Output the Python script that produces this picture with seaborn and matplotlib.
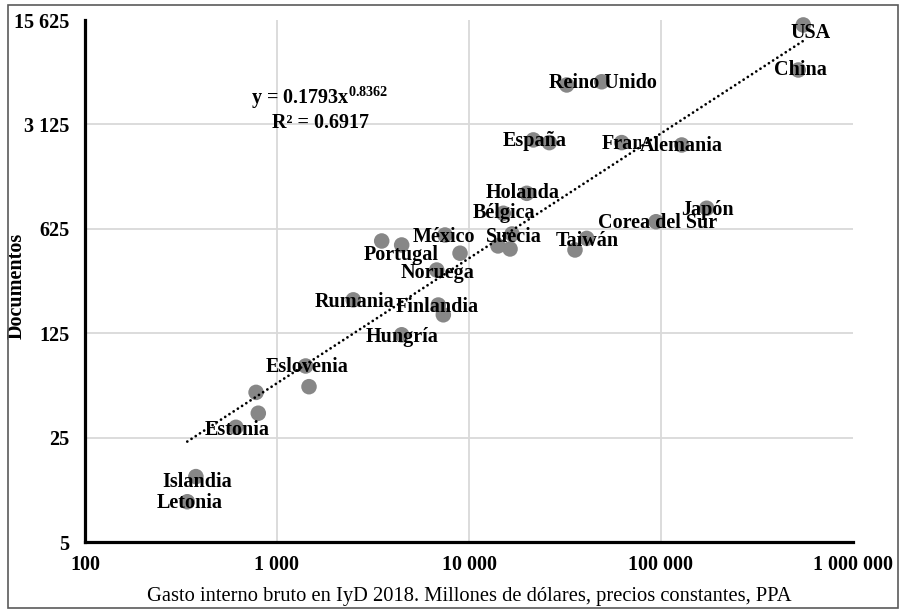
import numpy as np
import pandas as pd
import matplotlib
matplotlib.use("Agg")
import matplotlib.pyplot as plt
from matplotlib.patches import Rectangle
from matplotlib.transforms import Bbox
import seaborn as sns

# Países (cadena vacía = punto sin etiqueta)
paises = ["USA", "China", "Reino Unido", "", "España", "", "Francia", "Alemania",
          "Holanda", "Bélgica", "México", "Suecia", "", "", "Portugal", "", "",
          "Noruega", "Rumania", "Finlandia", "", "Hungría", "Taiwán", "",
          "Corea del Sur", "Japón", "Eslovenia", "", "", "", "Estonia",
          "Islandia", "Letonia"]
# Gasto interno bruto en IyD 2018 (millones de dólares PPA)
gasto = [550800, 518800, 49100, 32280, 21630, 26200, 62400, 128200,
         19990, 15090, 7500, 16750, 14160, 16360, 4460, 3510, 8980,
         6790, 2496, 6920, 7350, 4460, 41020, 35650,
         94200, 173000, 1410, 1468, 778, 799, 611,
         378, 341]
# Documentos
documentos = [14480, 7230, 6030, 5740, 2460, 2360, 2360, 2275,
              1080, 794, 568, 577, 480, 458, 487, 518, 429,
              331, 209, 193, 166, 122, 539, 451,
              697, 858, 75.4, 54.8, 50.2, 36.4, 29.3,
              13.7, 9.3]

# Ajuste potencial
coef_a = 0.1793
coef_b = 0.8362
r2 = 0.6917

x_ticks = [100, 1000, 10000, 100000, 1000000]
x_labels = ["100", "1 000", "10 000", "100 000", "1 000 000"]
y_ticks = [5, 25, 125, 625, 3125, 15625]
y_labels = ["5", "25", "125", "625", "3 125", "15 625"]

sns.set_theme(style="white")
plt.rcParams["font.family"] = ["Liberation Serif", "DejaVu Serif"]
plt.rcParams["mathtext.fontset"] = "custom"
plt.rcParams["mathtext.rm"] = "Liberation Serif:bold"
plt.rcParams["mathtext.bf"] = "Liberation Serif:bold"
plt.rcParams["mathtext.it"] = "Liberation Serif:bold:italic"

df = pd.DataFrame({"pais": paises, "gasto": gasto, "documentos": documentos})

W, H = 900, 610
fig = plt.figure(figsize=(W / 100, H / 100), dpi=100)
ax = fig.add_axes([85 / W, (H - 542) / H, 768 / W, 522 / H])

ax.set_xscale("log")
ax.set_yscale("log")
ax.set_xlim(x_ticks[0], x_ticks[-1])
ax.set_ylim(y_ticks[0], y_ticks[-1])

grid_col = "#d9d9d9"
for xv in x_ticks[1:-1]:
    ax.axvline(xv, color=grid_col, lw=1.3, zorder=0)
for yv in y_ticks[1:-1]:
    ax.axhline(yv, color=grid_col, lw=1.3, zorder=0)

sns.scatterplot(data=df, x="gasto", y="documentos", ax=ax, color="#878787",
                s=125, edgecolor="none", linewidth=0, legend=False, zorder=3,
                clip_on=False)

# Línea de tendencia
xt = np.geomspace(min(gasto), max(gasto), 300)
ax.plot(xt, coef_a * xt ** coef_b, color="black", lw=2.0,
        linestyle=(0, (0.01, 1.8)), dash_capstyle="round", zorder=4)

ax.set_xticks(x_ticks, labels=x_labels)
ax.set_yticks(y_ticks, labels=y_labels)
ax.minorticks_off()
ax.tick_params(axis="x", length=0, pad=9, labelsize=14.5, colors="black")
ax.tick_params(axis="y", length=0, pad=11, labelsize=14.5, colors="black")
for lab in ax.get_xticklabels() + ax.get_yticklabels():
    lab.set_fontweight("bold")

for side in ["top", "right"]:
    ax.spines[side].set_visible(False)
for side in ["left", "bottom"]:
    ax.spines[side].set_color("black")
    ax.spines[side].set_linewidth(2.3)

ax.set_xlabel("Gasto interno bruto en IyD 2018. Millones de dólares, precios constantes, PPA",
              fontsize=14.8, color="black", labelpad=9)
ax.set_ylabel("Documentos", fontsize=14.5, fontweight="bold", color="black")
ax.yaxis.set_label_coords(-0.076, 0.49)

# Desplazamientos de etiquetas (px: derecha, abajo)
offsets = {
    "USA": (7, 8), "China": (2, 0), "Reino Unido": (1, 1.5), "España": (1.5, 1.5),
    "Francia": (14, 1), "Alemania": (0, 1), "Holanda": (-4, 0), "Bélgica": (1, 0),
    "México": (-1, 2), "Suecia": (1.5, 3), "Portugal": (0, 10), "Noruega": (1, 3),
    "Rumania": (1, 2), "Finlandia": (-1, 2), "Hungría": (0, 2), "Taiwán": (1, 3),
    "Corea del Sur": (1.5, 1.5), "Japón": (1, 2), "Eslovenia": (1, 1),
    "Estonia": (1, 3), "Islandia": (1, 5), "Letonia": (2, 1.5),
}
textos = {}
for p, gx, dy in zip(paises, gasto, documentos):
    if not p:
        continue
    ox, oy = offsets.get(p, (0, 2))
    textos[p] = ax.annotate(p, (gx, dy), xytext=(ox * 0.72, -oy * 0.72),
                            textcoords="offset points", ha="center", va="center",
                            fontsize=14.5, fontweight="bold", color="black", zorder=5)

# Ecuación del ajuste
fig.text(320 / W, 1 - 98 / H, r"y = %.4fx$^{\mathbf{%.4f}}$" % (coef_a, coef_b),
         ha="center", va="center", fontsize=14.5, fontweight="bold", color="black")
fig.text(320 / W, 1 - 123 / H, "R² = %.4f" % r2,
         ha="center", va="center", fontsize=14.5, fontweight="bold", color="black")

# Marco exterior
fig.patches.append(Rectangle((7.5 / W, 2 / H), 890 / W, 603 / H, transform=fig.transFigure,
                             fill=False, edgecolor="#5a5a5a", lw=1.2))

# La etiqueta de Alemania tapa el final de la de Francia
fig.canvas.draw()
renderer = fig.canvas.get_renderer()
ext = textos["Alemania"].get_window_extent(renderer)
textos["Francia"].set_clip_box(Bbox([[0, 0], [ext.x0 + 1, fig.bbox.height]]))
textos["Francia"].set_clip_on(True)

fig.savefig("out.png", dpi=100)
